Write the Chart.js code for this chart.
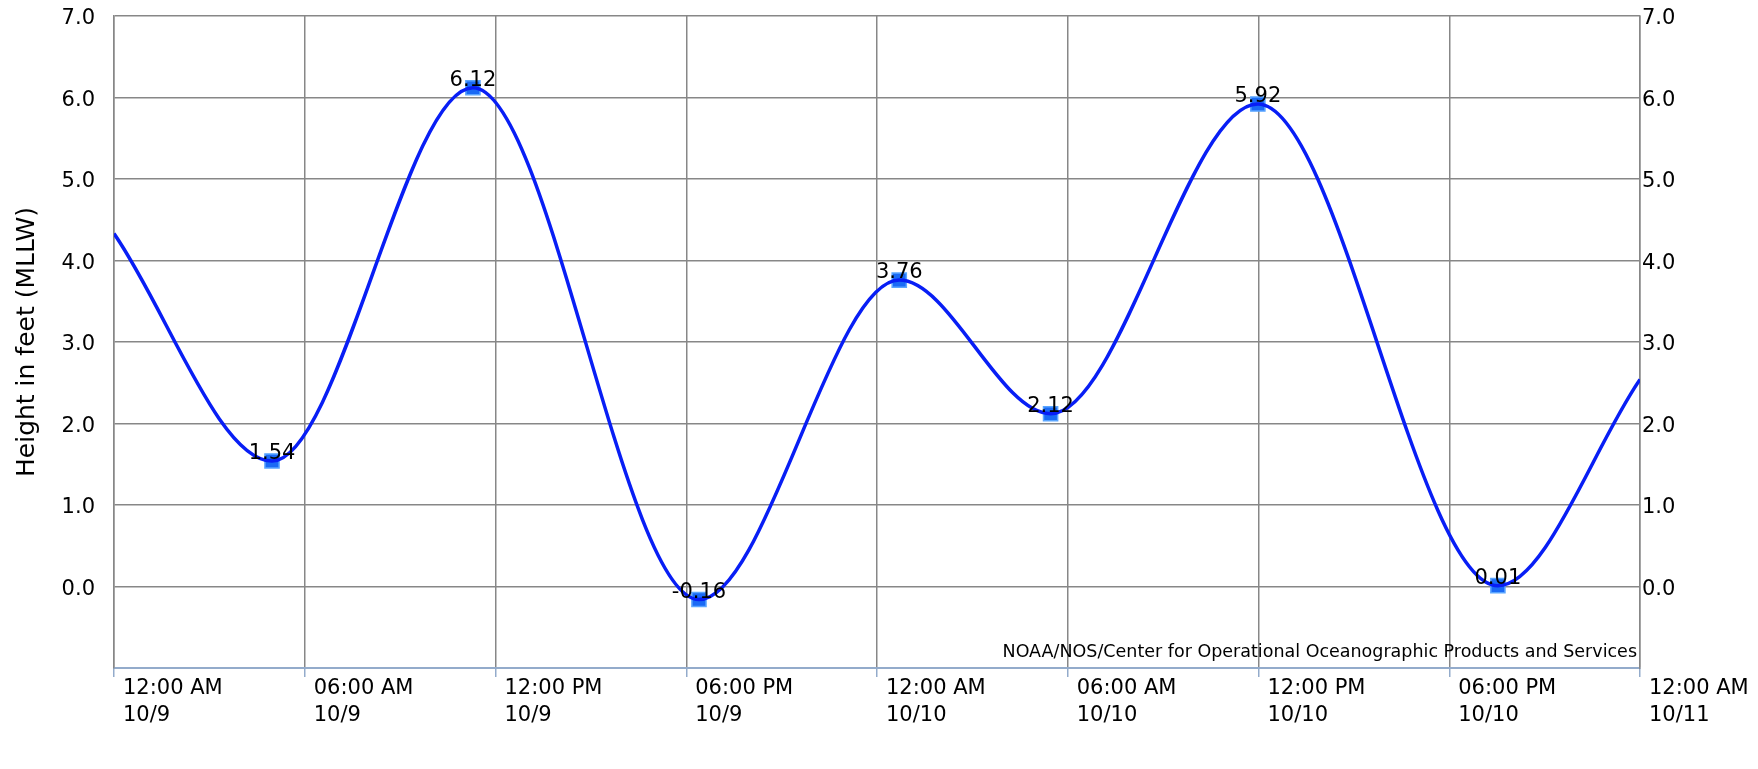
<!DOCTYPE html>
<html lang="en">
  <head>
    <meta charset="UTF-8" />
    <title>Tide Predictions</title>
    <script src="https://cdn.jsdelivr.net/npm/chart.js"></script>
    <style>
      html,
      body {
        margin: 0;
        padding: 0;
        background: #fff;
      }
      .chart-container {
        position: relative;
        width: 1758px;
        height: 769px;
      }
    </style>
  </head>
  <body>
    <div class="chart-container">
      <canvas id="tideChart"></canvas>
    </div>

    <script>
      // hours counted from 12:00 AM 10/9
      const hiLoHours = [4.97, 11.29, 18.4, 24.7, 29.46, 35.98, 43.53];
      const hiLoHeights = [1.54, 6.12, -0.16, 3.76, 2.12, 5.92, 0.01];
      const edgeHours = [0, 48];
      const edgeHeights = [4.33, 2.54];

      const tickHours = [0, 6, 12, 18, 24, 30, 36, 42, 48];
      const tickTimes = [
        "12:00 AM", "06:00 AM", "12:00 PM", "06:00 PM",
        "12:00 AM", "06:00 AM", "12:00 PM", "06:00 PM", "12:00 AM",
      ];
      const tickDates = [
        "10/9", "10/9", "10/9", "10/9",
        "10/10", "10/10", "10/10", "10/10", "10/11",
      ];

      const FONT = "'DejaVu Sans', sans-serif";
      const GRID = "#878787";
      const AXIS_BLUE = "#93abcb";

      const hiLoPoints = hiLoHours.map((h, i) => ({ x: h, y: hiLoHeights[i] }));
      const curvePoints = [{ x: edgeHours[0], y: edgeHeights[0] }]
        .concat(hiLoPoints)
        .concat([{ x: edgeHours[1], y: edgeHeights[1] }]);

      const yLabel = (v) => (v < 0 ? "" : Number(v).toFixed(1));

      // value labels over the hi/lo markers
      const valueLabels = {
        id: "valueLabels",
        afterDatasetsDraw(chart) {
          const ctx = chart.ctx;
          const meta = chart.getDatasetMeta(1);
          ctx.save();
          ctx.font = "21px " + FONT;
          ctx.fillStyle = "#000";
          ctx.textAlign = "center";
          ctx.textBaseline = "alphabetic";
          meta.data.forEach((pt, i) => {
            ctx.fillText(hiLoHeights[i].toFixed(2), pt.x, pt.y - 2);
          });
          ctx.restore();
        },
      };

      const credit = {
        id: "credit",
        beforeDatasetsDraw(chart) {
          const { ctx, chartArea } = chart;
          ctx.save();
          ctx.font = "17.5px " + FONT;
          ctx.fillStyle = "#000";
          ctx.textAlign = "right";
          ctx.textBaseline = "alphabetic";
          ctx.fillText(
            "NOAA/NOS/Center for Operational Oceanographic Products and Services",
            chartArea.right - 3,
            chartArea.bottom - 11
          );
          ctx.restore();
        },
      };

      const config = {
        type: "line",
        data: {
          datasets: [
            {
              label: "Prediction",
              data: curvePoints,
              borderColor: "rgb(8, 30, 245)",
              borderWidth: 3.5,
              pointRadius: 0,
              cubicInterpolationMode: "monotone",
              fill: false,
            },
            {
              label: "High/Low",
              data: hiLoPoints,
              showLine: false,
              pointStyle: "rect",
              pointRadius: 10,
              backgroundColor: "rgb(26, 106, 245)",
              borderColor: "rgb(90, 165, 255)",
              borderWidth: 1.5,
            },
          ],
        },
        options: {
          responsive: true,
          maintainAspectRatio: false,
          animation: false,
          layout: { padding: { top: 16, left: 0, right: 0, bottom: 0 } },
          plugins: {
            legend: { display: false },
            tooltip: { enabled: false },
          },
          scales: {
            x: {
              type: "linear",
              min: 0,
              max: 48,
              afterBuildTicks: (scale) => {
                scale.ticks = tickHours.map((v) => ({ value: v }));
              },
              afterFit: (scale) => {
                scale.height = 101;
              },
              ticks: {
                autoSkip: false,
                maxRotation: 0,
                minRotation: 0,
                align: "start",
                labelOffset: 9,
                padding: -2,
                color: "#000",
                font: { family: FONT, size: 21, lineHeight: 1.3 },
                callback: (v) => {
                  const i = tickHours.indexOf(v);
                  return i < 0 ? "" : [tickTimes[i], tickDates[i]];
                },
              },
              grid: {
                color: GRID,
                lineWidth: 1.5,
                tickColor: AXIS_BLUE,
                tickLength: 9,
              },
              border: { color: AXIS_BLUE, width: 2 },
            },
            y: {
              position: "left",
              min: -1,
              max: 7,
              afterFit: (scale) => {
                scale.width = 114;
              },
              ticks: {
                stepSize: 1,
                padding: 2,
                labelOffset: 3,
                color: "#000",
                font: { family: FONT, size: 21 },
                callback: yLabel,
              },
              grid: {
                drawTicks: true,
                tickLength: 17,
                tickColor: "rgba(0,0,0,0)",
                lineWidth: 1.5,
                color: (c) =>
                  c.tick && c.tick.value === -1 ? "rgba(0,0,0,0)" : GRID,
              },
              border: { color: GRID, width: 1.5 },
              title: {
                display: true,
                text: "Height in feet (MLLW)",
                color: "#000",
                font: { family: FONT, size: 25 },
                padding: { top: 12, bottom: 0 },
              },
            },
            yRight: {
              position: "right",
              min: -1,
              max: 7,
              afterFit: (scale) => {
                scale.width = 118;
              },
              ticks: {
                stepSize: 1,
                padding: 2,
                labelOffset: 3,
                color: "#000",
                font: { family: FONT, size: 21 },
                callback: yLabel,
              },
              grid: { drawOnChartArea: false, drawTicks: false },
              border: { color: GRID, width: 1.5 },
            },
          },
        },
        plugins: [credit, valueLabels],
      };

      window.onload = function () {
        const ctx = document.getElementById("tideChart").getContext("2d");
        new Chart(ctx, config);
      };
    </script>
  </body>
</html>
